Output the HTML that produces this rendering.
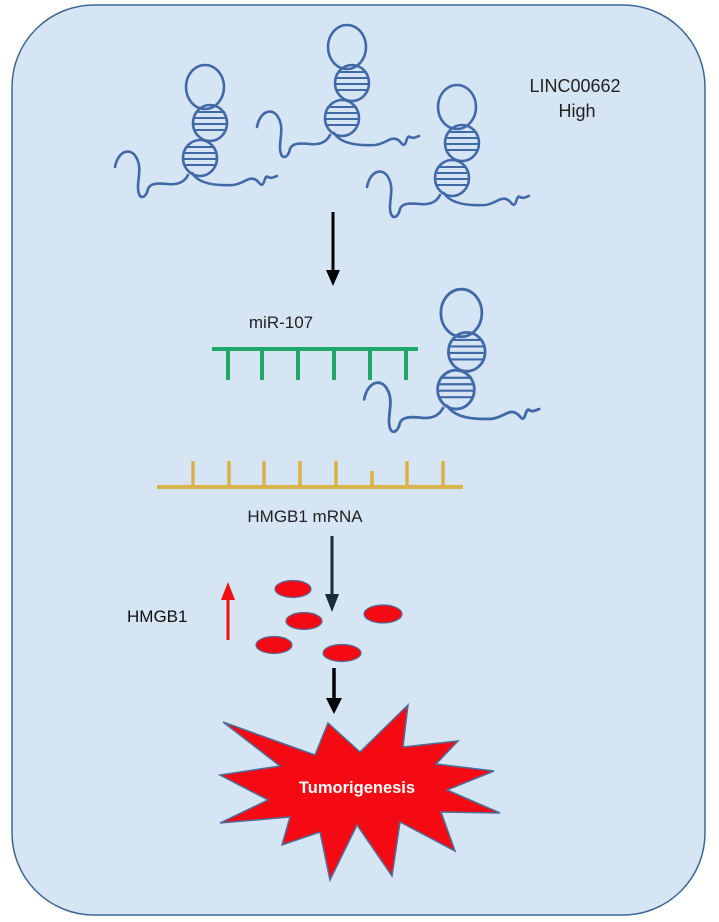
<!DOCTYPE html>
<html><head><meta charset="utf-8"><style>
html,body{margin:0;padding:0;background:#fff;}
svg{display:block;}
text{font-family:"Liberation Sans",Arial,sans-serif;}
</style></head><body>
<svg width="719" height="922" viewBox="0 0 719 922" xmlns="http://www.w3.org/2000/svg">
<defs>
<g id="dna" fill="none" stroke="#4169a8" stroke-width="2.6" stroke-linecap="round">
  <ellipse cx="17" cy="-88" rx="19" ry="22"/>
  <ellipse cx="22" cy="-52" rx="17" ry="18"/>
  <ellipse cx="12" cy="-17" rx="17" ry="18"/>
  <g stroke-width="2">
    <line x1="9" y1="-63" x2="36" y2="-63"/><line x1="6" y1="-57" x2="38" y2="-57"/>
    <line x1="6" y1="-51" x2="38" y2="-51"/><line x1="6" y1="-45" x2="37" y2="-45"/>
    <line x1="-2" y1="-28" x2="26" y2="-28"/><line x1="-4" y1="-22" x2="28" y2="-22"/>
    <line x1="-4" y1="-16" x2="28" y2="-16"/><line x1="-3" y1="-10" x2="27" y2="-10"/>
  </g>
  <path d="M0,0 C-4,8 -12,10 -20,9 C-30,8 -38,8 -40,14 C-42,24 -50,26 -50,12 C-50,2 -46,-8 -52,-18 C-58,-28 -70,-24 -73,-8"/>
  <path d="M4,-2 C10,8 25,11 45,10 C55,9 60,2 66,4 C72,6 72,12 75,9 C77,6 77,0 80,2 C83,4 86,2 89,1"/>
</g>
</defs>
<rect x="12" y="5" width="693" height="910" rx="82" ry="82" fill="#d6e5f4" stroke="#3d6795" stroke-width="1.5"/>

<use href="#dna" transform="translate(188,175)"/>
<use href="#dna" transform="translate(330,135)"/>
<use href="#dna" transform="translate(440,195)"/>
<use href="#dna" transform="translate(443,408) scale(1.08)"/>

<text x="575" y="92" font-size="18" fill="#222" text-anchor="middle">LINC00662</text>
<text x="577" y="117" font-size="18" fill="#222" text-anchor="middle">High</text>

<line x1="333" y1="212" x2="333" y2="272" stroke="#000" stroke-width="3"/>
<polygon points="326,270 340,270 333,286" fill="#000"/>

<text x="281" y="328" font-size="17" fill="#222" text-anchor="middle">miR-107</text>
<line x1="212" y1="349" x2="418" y2="349" stroke="#1fa86a" stroke-width="4"/>
<g stroke="#1fa86a" stroke-width="4">
<line x1="228" y1="351" x2="228" y2="380"/><line x1="262" y1="351" x2="262" y2="380"/>
<line x1="298" y1="351" x2="298" y2="380"/><line x1="334" y1="351" x2="334" y2="380"/>
<line x1="370" y1="351" x2="370" y2="380"/><line x1="406" y1="351" x2="406" y2="380"/>
</g>

<line x1="157" y1="487" x2="463" y2="487" stroke="#d9b24a" stroke-width="4"/>
<g stroke="#d9b24a" stroke-width="3.5">
<line x1="193" y1="461" x2="193" y2="486"/><line x1="229" y1="461" x2="229" y2="486"/>
<line x1="264" y1="461" x2="264" y2="486"/><line x1="300" y1="461" x2="300" y2="486"/>
<line x1="336" y1="461" x2="336" y2="486"/><line x1="372" y1="471" x2="372" y2="486"/>
<line x1="407" y1="461" x2="407" y2="486"/><line x1="443" y1="461" x2="443" y2="486"/>
</g>
<text x="305" y="522" font-size="17" fill="#222" text-anchor="middle">HMGB1 mRNA</text>

<line x1="332" y1="536" x2="332" y2="596" stroke="#1c2a3a" stroke-width="3"/>
<polygon points="325,594 339,594 332,612" fill="#1c2a3a"/>

<text x="127" y="622" font-size="17" fill="#111">HMGB1</text>
<line x1="228" y1="598" x2="228" y2="640" stroke="#f01010" stroke-width="3"/>
<polygon points="221,600 235,600 228,582" fill="#f01010"/>

<g fill="#f50a14" stroke="#4a6f9a" stroke-width="1.2">
<ellipse cx="293" cy="589" rx="18" ry="8.5"/>
<ellipse cx="304" cy="621" rx="18" ry="8.5"/>
<ellipse cx="383" cy="614" rx="19" ry="9"/>
<ellipse cx="274" cy="645" rx="18" ry="8.5"/>
<ellipse cx="342" cy="653" rx="19" ry="8.5"/>
</g>

<line x1="334" y1="668" x2="334" y2="700" stroke="#000" stroke-width="3.5"/>
<polygon points="326,698 342,698 334,714" fill="#000"/>

<polygon fill="#f50a14" stroke="#4a6f9a" stroke-width="1.5"
points="223,722 315,755 328,723 360,752 408,705 403,747 458,741 436,764 494,771 447,790 500,813 441,812 455,851 400,822 392,876 357,825 330,880 320,832 282,845 290,817 220,823 268,800 220,775 280,766"/>
<text x="357" y="793" font-size="16.5" font-weight="bold" fill="#fff" text-anchor="middle">Tumorigenesis</text>
</svg>
</body></html>
